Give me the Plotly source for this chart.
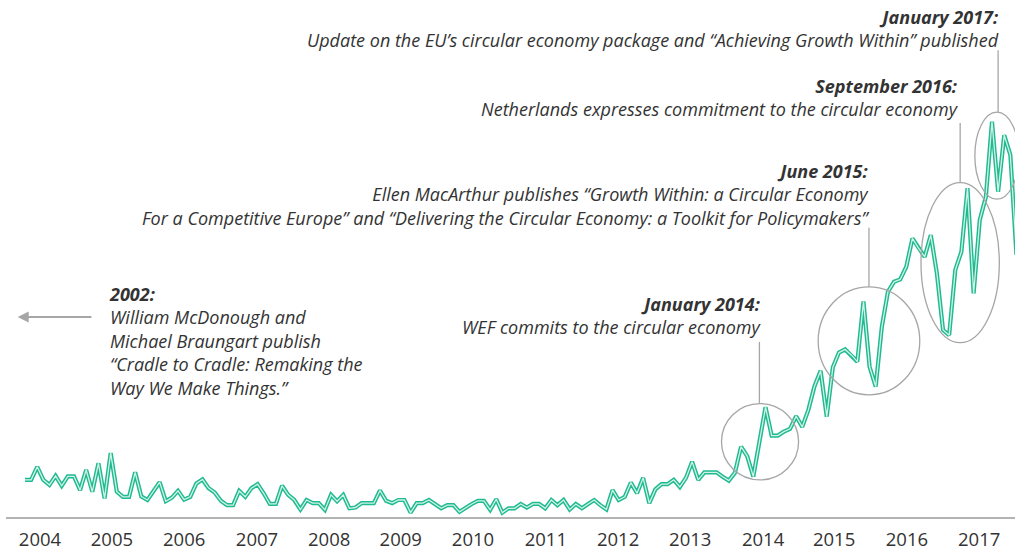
import plotly.graph_objects as go

# Monthly search interest, Jan 2004 onwards (index 0 = Jan 2004)
interest = [
    9.4, 9.4, 12.7, 9.4, 8.1, 10.4, 7.9, 10.3, 10.3, 6.8, 11.9, 6.4,
    13.6, 4.7, 16.2, 6.4, 5.1, 5.1, 11.3, 5.2, 4.3, 6.4, 8.8, 4.0,
    4.9, 6.6, 4.4, 5.1, 8.5, 9.5, 7.3, 6.2, 4.1, 3.0, 3.0, 6.6,
    5.1, 7.3, 8.3, 6.0, 3.3, 3.3, 7.9, 5.6, 4.3, 1.9, 4.3, 3.5,
    3.5, 1.8, 5.6, 4.0, 5.6, 2.2, 2.4, 3.5, 3.5, 3.5, 6.7, 4.1,
    3.5, 4.3, 4.3, 1.1, 3.5, 3.5, 4.3, 3.3, 2.2, 3.0, 3.0, 1.3,
    2.4, 3.3, 4.1, 4.1, 1.8, 4.5, 1.1, 2.2, 2.2, 3.3, 2.4, 3.3,
    3.3, 2.2, 4.3, 3.0, 4.3, 1.9, 3.3, 2.2, 3.3, 4.3, 3.0, 1.9,
    6.8, 4.3, 5.1, 8.7, 6.0, 9.9, 3.5, 7.0, 8.3, 8.3, 9.4, 7.6,
    9.9, 14.0, 9.4, 11.3, 11.3, 11.3, 10.2, 9.2, 11.2, 17.8, 15.4, 10.2,
    19.0, 27.8, 20.6, 20.6, 21.6, 22.3, 25.5, 22.8, 27.1, 33.1, 37.0, 25.4,
    37.9, 41.6, 42.4, 41.0, 39.3, 54.5, 38.0, 33.0, 48.1, 57.0, 59.5, 60.1,
    63.3, 70.5, 68.0, 65.8, 71.3, 61.6, 47.3, 46.0, 62.5, 67.1, 83.2, 56.6,
    75.1, 81.0, 100.0, 82.3, 96.6, 91.6, 66.3,
]
month_index = list(range(len(interest)))

year_labels = ["2004", "2005", "2006", "2007", "2008", "2009", "2010",
               "2011", "2012", "2013", "2014", "2015", "2016", "2017"]
year_label_pos = [2.45, 14.2, 26.0, 37.9, 49.7, 61.4, 73.2, 85.1, 96.9,
                  108.7, 120.6, 132.2, 144.1, 155.9]

TEAL = "#1fba90"
INNER = "#d2f2e7"
GREY = "#a6a6a6"
TXT = "#333333"
FONT = "Open Sans"

fig = go.Figure()
fig.add_trace(go.Scatter(x=month_index, y=interest, mode="lines",
                         line=dict(color=TEAL, width=4.2), hoverinfo="skip"))
fig.add_trace(go.Scatter(x=month_index, y=interest, mode="lines",
                         line=dict(color=INNER, width=1.3), hoverinfo="skip"))

# highlight ellipses (data coordinates)
ellipses = [
    (113.8, 126.4, 9.4, 28.7),
    (129.6, 146.2, 30.9, 58.2),
    (146.4, 159.2, 44.1, 84.6),
    (155.2, 162.4, 80.4, 102.4),
]
for x0, x1, y0, y1 in ellipses:
    fig.add_shape(type="circle", xref="x", yref="y", x0=x0, x1=x1, y0=y0, y1=y1,
                  line=dict(color=GREY, width=1.3), layer="above")

leaders = [
    (120.0, 28.7, 44.3),
    (137.9, 58.2, 73.2),
    (152.8, 84.6, 99.7),
    (159.0, 102.4, 118.1),
]
for x, y0, y1 in leaders:
    fig.add_shape(type="line", xref="x", yref="y", x0=x, x1=x, y0=y0, y1=y1,
                  line=dict(color=GREY, width=1.3))

notes = [
    (159.5, 123.7, "right",
     "<b>January 2017:</b><br>Update on the EU\u2019s circular economy package and \u201cAchieving Growth Within\u201d published"),
    (152.95, 106.0, "right",
     "<b>September 2016:</b><br>Netherlands expresses commitment to the circular economy"),
    (138.25, 81.5, "right",
     "<b>June 2015:</b><br>Ellen MacArthur publishes \u201cGrowth Within: a Circular Economy<br>For a Competitive Europe\u201d and \u201cDelivering the Circular Economy: a Toolkit for Policymakers\u201d"),
    (120.6, 50.85, "right",
     "<b>January 2014:</b><br>WEF commits to the circular economy"),
    (13.4, 44.4, "left",
     "<b>2002:</b><br>William McDonough and<br>Michael Braungart publish<br>\u201cCradle to Cradle: Remaking the<br>Way We Make Things.\u201d"),
]
for x, y, anchor, text in notes:
    fig.add_annotation(x=x, y=y, xref="x", yref="y", xanchor=anchor, yanchor="middle",
                       align=anchor, showarrow=False, text="<i>" + text + "</i>",
                       font=dict(family=FONT, size=18, color=TXT))

# arrow pointing left (earlier than chart start)
fig.add_annotation(x=-1.2, y=50.6, ax=11.1, ay=50.6, xref="x", yref="y",
                   axref="x", ayref="y", text="", showarrow=True,
                   arrowhead=2, arrowsize=1.1, arrowwidth=2, arrowcolor=GREY)

fig.update_layout(
    width=1015, height=552,
    margin=dict(l=6, r=0, t=0, b=35),
    paper_bgcolor="white", plot_bgcolor="white",
    showlegend=False,
    font=dict(family=FONT, color=TXT),
    xaxis=dict(range=[-3.105, 161.76], showgrid=False, zeroline=False,
               showline=True, linecolor="#b3b3b3", linewidth=2,
               tickmode="array", tickvals=year_label_pos, ticktext=year_labels,
               ticks="", tickfont=dict(family=FONT, size=18.5, color=TXT),
               ticklabelstandoff=5),
    yaxis=dict(range=[0, 130.79], visible=False, showgrid=False, zeroline=False),
)

fig.write_html("out.html", config={"displayModeBar": False},
               post_script="document.body.style.margin='0';")
